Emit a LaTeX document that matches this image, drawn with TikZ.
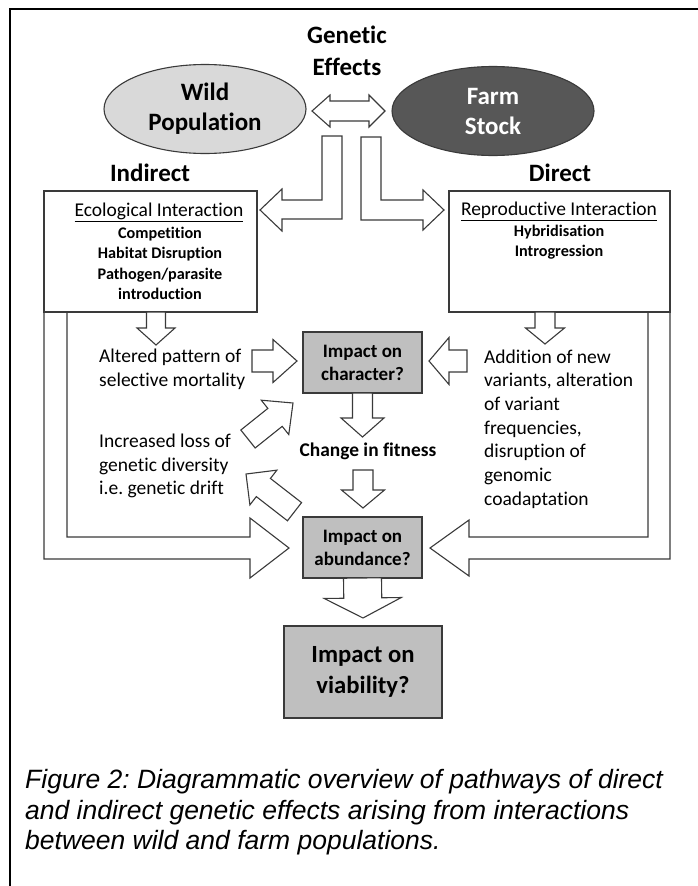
\documentclass[tikz,border=0pt]{standalone}
\usepackage{fontspec}
\setmainfont{Carlito}[Ligatures=NoCommon]
\newfontfamily\capfont{Liberation Sans}
\usetikzlibrary{calc,shapes.geometric}
\frenchspacing
\definecolor{wildfill}{HTML}{D9D9D9}
\definecolor{farmfill}{HTML}{575757}
\definecolor{boxfill} {HTML}{BFBFBF}
\definecolor{edge}    {HTML}{3A3A3A}
\newcommand{\fs}[2]{\fontsize{#1}{#2}\selectfont}
% block arrow: tail, tip, shaft width, head width, head length
\newcommand{\fatarrow}[5]{%
  \draw[blockarr] let \p1=(#1), \p2=(#2),
      \n1={atan2(\y2-\y1,\x2-\x1)}, \n2={veclen(\x2-\x1,\y2-\y1)} in
    [shift={(\p1)}, rotate=\n1]
    (0,{#3/2}) -- ({\n2-#5},{#3/2}) -- ({\n2-#5},{#4/2}) -- (\n2,0)
    -- ({\n2-#5},{-#4/2}) -- ({\n2-#5},{-#3/2}) -- (0,{-#3/2}) -- cycle;}
\tikzset{
  pop/.style     ={ellipse, draw=edge, line width=1.1pt, inner sep=0pt,
                   minimum width=202pt, minimum height=89pt, align=center,
                   font=\bfseries\fs{25}{30}},
  gen/.style     ={align=center, inner sep=0pt, font=\bfseries\fs{25}{32}},
  side/.style    ={inner sep=0pt, font=\bfseries\fs{25}{30}},
  panel/.style   ={draw=edge, line width=1.1pt, fill=white, inner sep=0pt,
                   outer sep=0pt},
  ptitle/.style  ={inner sep=0pt, font=\fs{19.5}{24}},
  plist/.style   ={align=center, inner sep=0pt, font=\bfseries\fs{16.2}{20.5}},
  body/.style    ={align=left, anchor=west, inner sep=0pt, font=\fs{19.5}{23.7}},
  impact/.style  ={draw=edge, line width=1.1pt, fill=boxfill, align=center,
                   inner sep=0pt, outer sep=0pt, minimum width=119pt,
                   minimum height=61pt, font=\bfseries\fs{19}{23}},
  bold/.style    ={inner sep=0pt, font=\bfseries\fs{19.4}{23}},
  blockarr/.style={draw=edge, line width=1.1pt, fill=white, line join=miter},
  caption/.style ={align=left, anchor=west, inner sep=0pt,
                   font=\capfont\itshape\fs{26.5}{30.5}}
}
\begin{document}
\begin{tikzpicture}[x=1pt, y=-1pt]
\useasboundingbox (0,0) rectangle (697,886);
\draw[line width=2pt] (10,9) rectangle (720,910);

% two populations
\node[gen] (gen) at (347,51) {Genetic\\Effects};
\node[pop, fill=wildfill] (wild) at (205,109) {Wild\\Population};
\node[pop, fill=farmfill, text=white] (farm) at (493,111) {Farm\\Stock};
\draw[blockarr] (312,111) -- (330,95) -- (330,101) -- (369,101) -- (369,95)
  -- (385,111) -- (369,127) -- (369,121) -- (330,121) -- (330,127) -- cycle;

% split into indirect / direct
\draw[blockarr] (322,136) -- (342,136) -- (342,219) -- (282,219) -- (282,231)
  -- (260,210) -- (282,189) -- (282,200) -- (322,200) -- cycle;
\draw[blockarr] (361,137) -- (381,137) -- (381,200) -- (423,200) -- (423,190)
  -- (444,210) -- (423,230) -- (423,220) -- (361,220) -- cycle;
\node[side] (indirect) at (150,173) {Indirect};
\node[side] (direct) at (560,173) {Direct};

% long routes to abundance
\draw[blockarr] (67,312) -- (67,537) -- (250,537) -- (250,518) -- (289,548)
  -- (250,578) -- (250,559) -- (44,559) -- (44,312);
\draw[blockarr] (648,312) -- (648,537) -- (469,537) -- (469,520) -- (430,548)
  -- (469,576) -- (469,559) -- (670,559) -- (670,312);

\node[panel, minimum width=213pt, minimum height=121pt] (eco) at (150.5,251.5) {};
\node[ptitle] (ecohead) at (159,212) {\underline{Ecological Interaction}};
\node[plist] (ecolist) at (160,263.5)
  {Competition\\Habitat Disruption\\Pathogen/parasite\\introduction};
\node[panel, minimum width=221pt, minimum height=121pt] (repro) at (559.5,251.5) {};
\node[ptitle] (reprohead) at (559,211) {\underline{Reproductive Interaction}};
\node[plist] (reprolist) at (559,242) {Hybridisation\\Introgression};

% middle column
\node[body] (altered) at (99,369) {Altered pattern of\\selective mortality};
\node[body] (added) at (484,429) {Addition of new\\variants, alteration\\of variant\\
  frequencies,\\disruption of\\genomic\\coadaptation};
\node[body] (loss) at (99,466) {Increased loss of\\genetic diversity\\i.e. genetic drift};
\node[impact] (char) at (362.5,362.5) {Impact on\\character?};
\node[bold] (fitness) at (368,451) {Change in fitness};
\node[impact] (abund) at (362.5,547.5) {Impact on\\abundance?};
\node[impact, minimum width=158pt, minimum height=92pt,
      font=\bfseries\fs{24.7}{31}] (viab) at (363,672) {Impact on\\viability?};

\coordinate (ecoout) at (156,312);   \coordinate (altin) at (156,345);
\coordinate (reproout) at (545,312); \coordinate (addin) at (545,344);
\coordinate (altout) at (252,361);   \coordinate (charw) at (297,361);
\coordinate (addout) at (467,361);   \coordinate (chare) at (429,361);
\coordinate (fitin) at (362.5,437);  \coordinate (fitout) at (363,470);
\coordinate (abundn) at (363,508);   \coordinate (viabn) at (363,618);
\coordinate (lossout) at (248,439);  \coordinate (charsw) at (293,403);
\coordinate (abundnw) at (294.5,511.7); \coordinate (lossin) at (246,474);

\fatarrow{ecoout}{altin}{19}{38}{17}
\fatarrow{reproout}{addin}{20}{39}{16}
\fatarrow{altout}{charw}{22}{43}{24}
\fatarrow{addout}{chare}{22}{47}{20}
\fatarrow{char.south}{fitin}{20}{43}{19}
\fatarrow{fitout}{abundn}{20}{43}{18}
\fatarrow{abund.south}{viabn}{38}{77}{20}
\fatarrow{lossout}{charsw}{23}{44}{23}
\fatarrow{abundnw}{lossin}{23}{44}{22}

\node[caption] (cap) at (25,812.5)
  {Figure 2: Diagrammatic overview of pathways of direct\\
   and indirect genetic effects arising from interactions\\
   between wild and farm populations.};
\end{tikzpicture}
\end{document}
